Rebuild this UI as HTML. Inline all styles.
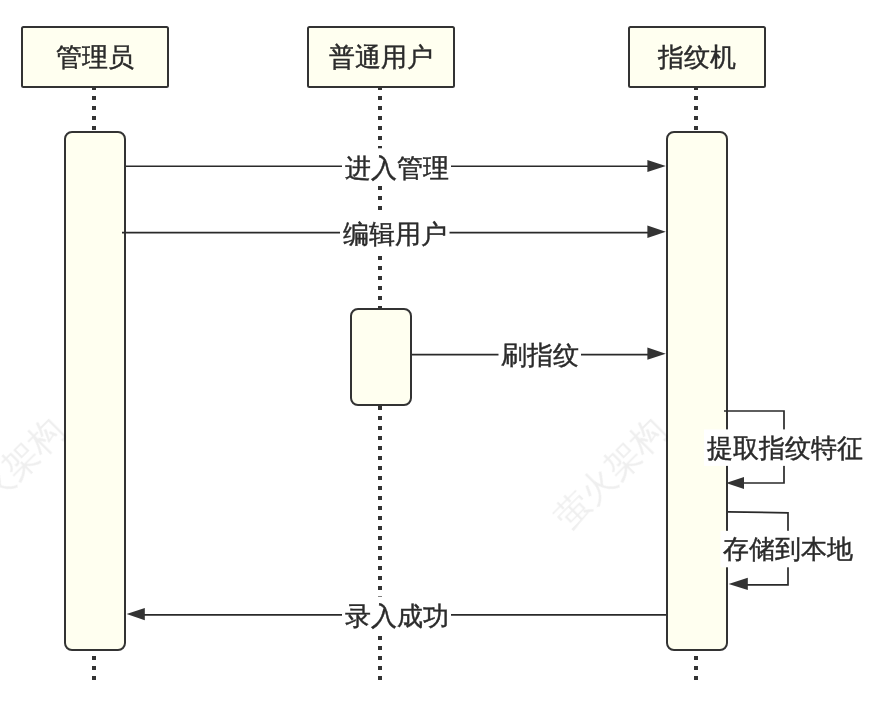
<!DOCTYPE html>
<html><head><meta charset="utf-8">
<style>
html,body{margin:0;padding:0;background:#fff;}
body{width:880px;height:710px;position:relative;overflow:hidden;font-family:"Liberation Sans",sans-serif;}
svg{position:absolute;left:0;top:0;will-change:transform;}
.t{font-family:"Liberation Sans",sans-serif;font-size:26px;fill:#2b2b2b;stroke:#2b2b2b;stroke-width:0.45px;}
.wm{font-family:"Liberation Sans",sans-serif;font-size:35px;fill:#000;opacity:0.065;}
</style></head><body>
<svg width="880" height="710" viewBox="0 0 880 710">
  <!-- lifelines -->
  <g stroke="#333" stroke-width="4" stroke-dasharray="4 6" shape-rendering="crispEdges">
    <line x1="94" y1="86" x2="94" y2="682"/>
    <line x1="380" y1="86" x2="380" y2="682"/>
    <line x1="696" y1="86" x2="696" y2="682"/>
  </g>
  <!-- actor boxes -->
  <g fill="#FFFFF0" stroke="#333" stroke-width="2">
    <rect x="22" y="27" width="146" height="60" rx="1.5"/>
    <rect x="308" y="27" width="146" height="60" rx="1.5"/>
    <rect x="629" y="27" width="136" height="60" rx="1.5"/>
  </g>
  <g class="t" text-anchor="middle">
    <text x="95" y="66">管理员</text>
    <text x="381" y="66">普通用户</text>
    <text x="697" y="66">指纹机</text>
  </g>
  <!-- activation boxes -->
  <g fill="#FFFFF0" stroke="#333" stroke-width="2">
    <rect x="65" y="132" width="60" height="518" rx="7"/>
    <rect x="667" y="132" width="60" height="518" rx="7"/>
    <rect x="351" y="309" width="60" height="96" rx="7"/>
  </g>
  <!-- messages -->
  <g stroke="#2a2a2a" stroke-width="1.7" fill="none">
    <line x1="126" y1="166.25" x2="650" y2="166.25"/>
    <line x1="122" y1="232.6" x2="650" y2="232.6"/>
    <line x1="412" y1="354.6" x2="650" y2="354.6"/>
    <path d="M724 411 H784 V483 H742"/>
    <path d="M728 511.9 L788 512.8 V584.8 H746"/>
    <line x1="666" y1="614.8" x2="142" y2="614.8"/>
  </g>
  <g fill="#333">
    <path d="M665.8 165.9 L647.4 159.9 L647.4 171.9 Z"/>
    <path d="M665.8 231.8 L647.4 225.6 L647.4 237.9 Z"/>
    <path d="M665.8 353.7 L647.4 347.6 L647.4 359.8 Z"/>
    <path d="M726 483 L744 477 L744 489 Z"/>
    <path d="M728.6 583.9 L747.8 577.8 L747.8 590 Z"/>
    <path d="M126.6 614.1 L144.8 608 L144.8 620.2 Z"/>
  </g>
  <!-- label backgrounds -->
  <g fill="#fff">
    <rect x="342" y="148.3" width="109" height="36.5"/>
    <rect x="340" y="214.3" width="109.5" height="36.5"/>
    <rect x="498.5" y="336.3" width="82.5" height="36.5"/>
    <rect x="704" y="429.4" width="161" height="36.5"/>
    <rect x="720.5" y="530.8" width="134" height="36.5"/>
    <rect x="342" y="596.6" width="109" height="36.5"/>
  </g>
  <g class="t" text-anchor="middle">
    <text x="396.5" y="176.5">进入管理</text>
    <text x="394.5" y="242.5">编辑用户</text>
    <text x="539.5" y="364">刷指纹</text>
    <text x="784.5" y="457">提取指纹特征</text>
    <text x="788" y="557.5">存储到本地</text>
    <text x="396.5" y="624.5">录入成功</text>
  </g>
  <!-- watermarks -->
  <g class="wm" text-anchor="middle">
    <text transform="translate(610.3 473.2) rotate(-45)" y="12">萤火架构</text>
    <text transform="translate(8.3 473.2) rotate(-45)" y="12">萤火架构</text>
  </g>
</svg>
</body></html>
